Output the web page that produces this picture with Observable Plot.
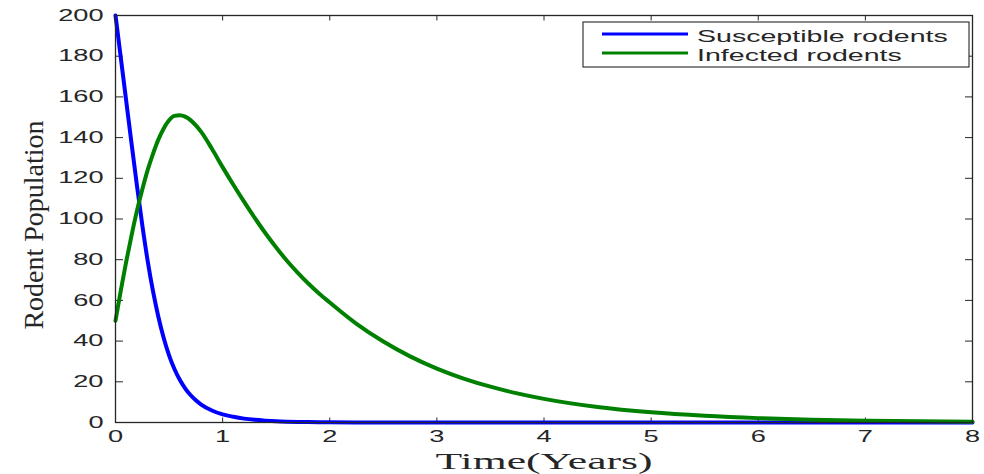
<!DOCTYPE html>
<html>
<head>
<meta charset="utf-8">
<script src="https://cdn.jsdelivr.net/npm/d3@7"></script>
<script src="https://cdn.jsdelivr.net/npm/@observablehq/plot@0.6"></script>
<style>
  html, body { margin: 0; padding: 0; background: #fff; }
  #chart { width: 984px; height: 474px; }
</style>
</head>
<body>
<div id="chart"></div>
<script>
// Time in years
const years = [0, 0.05, 0.1, 0.15, 0.2, 0.25, 0.3, 0.35, 0.4, 0.45, 0.5, 0.55, 0.6, 0.65, 0.7, 0.75, 0.8,
  0.9, 1.0, 1.1, 1.2, 1.3, 1.4, 1.5, 1.6, 1.7, 1.8, 1.9, 2.0,
  2.25, 2.5, 2.75, 3, 3.25, 3.5, 3.75, 4, 4.5, 5, 5.5, 6, 6.5, 7, 7.5, 8];
// Susceptible rodents
const susceptible = [200, 179, 158, 137, 116.5, 97, 79.5, 64.5, 52, 41.5, 33, 26.3, 21, 16.8, 13.5, 10.9, 8.8,
  5.9, 4.0, 2.8, 1.9, 1.3, 0.9, 0.6, 0.42, 0.3, 0.2, 0.14, 0.1,
  0.05, 0.03, 0.01, 0, 0, 0, 0, 0, 0, 0, 0, 0, 0, 0, 0, 0];
// Infected rodents
const infected = [50, 65, 79, 92, 104, 114.5, 124, 132, 139, 144.5, 148.5, 150.7, 151, 150.3, 148.6, 146, 142.8,
  134.5, 125.5, 116.8, 108.5, 100.5, 93, 86, 79.5, 73.7, 68.3, 63.4, 59,
  48.5, 39.8, 32.5, 26.5, 21.6, 17.6, 14.3, 11.6, 7.6, 5.0, 3.3, 2.15, 1.4, 0.92, 0.6, 0.4];

const seriesNames = ["Susceptible rodents", "Infected rodents"];
const seriesColors = ["#0000ff", "#008000"];
const xTicks = [0, 1, 2, 3, 4, 5, 6, 7, 8];
const yTicks = [0, 20, 40, 60, 80, 100, 120, 140, 160, 180, 200];
const xLabel = "Time(Years)";
const yLabel = "Rodent Population";

const sData = years.map((t, i) => ({t, v: susceptible[i]}));
const iData = years.map((t, i) => ({t, v: infected[i]}));

const ink = "#262626";
const tickFont = {fontFamily: "Liberation Sans, Arial, sans-serif", fontSize: 16, fill: ink};
const serif = "Liberation Serif, Times New Roman, serif";

const chart = Plot.plot({
  width: 984,
  height: 474,
  marginTop: 15,
  marginRight: 12,
  marginBottom: 52,
  marginLeft: 115,
  style: {background: "#fff", overflow: "visible"},
  x: {domain: [0, 8], label: null},
  y: {domain: [0, 200], label: null},
  marks: [
    // tick labels
    Plot.axisY(yTicks, {anchor: "left", tickSize: 0, tickPadding: 12, ...tickFont}),
    Plot.axisX(xTicks, {anchor: "bottom", tickSize: 0, tickPadding: 8, ...tickFont}),
    // inward tick marks on all four sides
    Plot.axisY(yTicks, {anchor: "left", tickSize: -8, text: null, stroke: ink}),
    Plot.axisY(yTicks, {anchor: "right", tickSize: -8, text: null, stroke: ink}),
    Plot.axisX(xTicks, {anchor: "bottom", tickSize: -4.5, text: null, stroke: ink}),
    Plot.axisX(xTicks, {anchor: "top", tickSize: -4.5, text: null, stroke: ink}),
    Plot.lineY(sData, {x: "t", y: "v", stroke: seriesColors[0], strokeWidth: 4, curve: "monotone-x"}),
    Plot.lineY(iData, {x: "t", y: "v", stroke: seriesColors[1], strokeWidth: 4, curve: "monotone-x"}),
    Plot.frame({stroke: ink, strokeWidth: 1.3}),
    Plot.text([xLabel], {
      frameAnchor: "bottom", lineAnchor: "bottom", dy: 46,
      fontFamily: serif, fontSize: 23, fill: ink
    }),
    Plot.text([yLabel], {
      frameAnchor: "left", textAnchor: "middle", rotate: -90, lineAnchor: "middle", dx: -81, dy: 6,
      fontFamily: serif, fontSize: 28, fill: ink
    })
  ]
});

document.getElementById("chart").appendChild(chart);

// widen glyphs horizontally about their anchor point
function stretchX(el, s) {
  const xa = el.getAttribute("x");
  const x = xa !== null && !isNaN(+xa) ? +xa : 0;
  if (xa !== null && !isNaN(+xa)) el.setAttribute("x", 0);
  const t = el.getAttribute("transform") || "";
  el.setAttribute("transform", `${t} translate(${x},0) scale(${s},1)`);
}
const svg = d3.select(chart);
svg.selectAll('g[aria-label="y-axis tick label"] text, g[aria-label="x-axis tick label"] text')
  .each(function() { stretchX(this, 1.7); });
svg.selectAll("text")
  .filter(function() { return this.textContent === xLabel; })
  .each(function() { stretchX(this, 1.9); });

// legend box in the upper right corner
const lg = svg.append("g").attr("class", "legend").attr("text-anchor", "start");
lg.append("rect")
  .attr("x", 583).attr("y", 22).attr("width", 386).attr("height", 45)
  .attr("fill", "#fff").attr("stroke", ink).attr("stroke-width", 1.1);
seriesNames.forEach((name, i) => {
  const cy = 34 + i * 19;
  lg.append("line")
    .attr("x1", 602).attr("x2", 688).attr("y1", cy).attr("y2", cy)
    .attr("stroke", seriesColors[i]).attr("stroke-width", 3);
  const tx = lg.append("text")
    .attr("x", 697).attr("y", cy + 8)
    .attr("text-anchor", "start")
    .attr("font-family", "Liberation Sans, Arial, sans-serif")
    .attr("font-size", 17).attr("fill", ink)
    .text(name);
  stretchX(tx.node(), 1.68);
});
</script>
</body>
</html>
